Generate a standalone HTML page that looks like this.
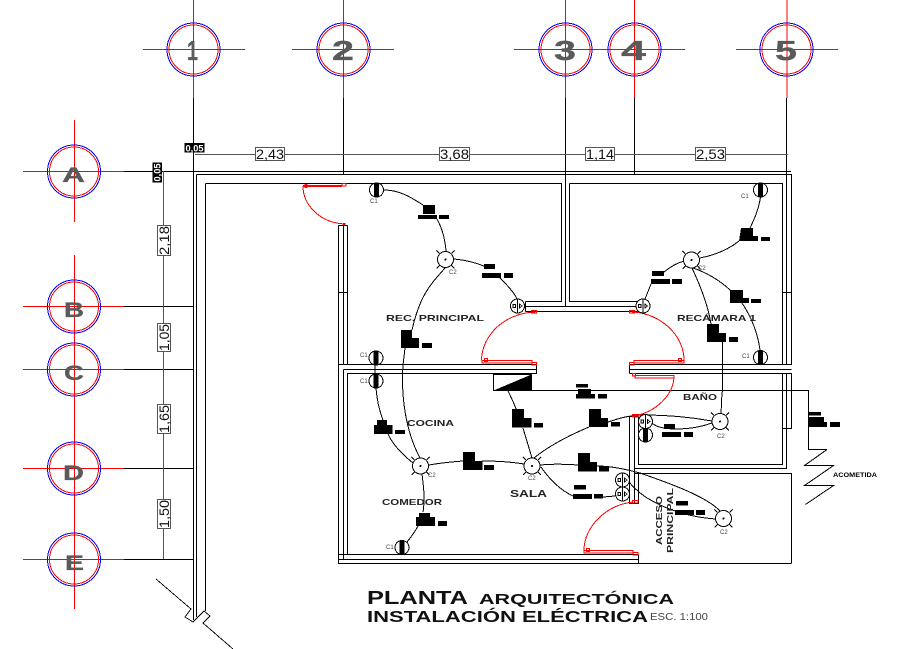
<!DOCTYPE html>
<html><head><meta charset="utf-8"><style>
html,body{margin:0;padding:0;background:#fff;width:905px;height:649px;overflow:hidden}
svg{display:block}
text{font-family:"Liberation Sans",sans-serif}
.l{font-weight:bold;font-size:8.5px;fill:#222}
.g{font-weight:bold;fill:#5a5a5a;stroke:#5a5a5a;stroke-width:.3}
.d{font-size:14px;fill:#111}
.c{font-size:6px;fill:#444}
.z{font-size:9px;fill:#fff;font-weight:bold}
</style></head><body>
<svg width="905" height="649" viewBox="0 0 905 649" xmlns="http://www.w3.org/2000/svg" shape-rendering="crispEdges">
<defs>
<g id="gc"><circle r="26.5" fill="none" stroke="#00f"/><circle r="24.5" fill="none" stroke="#f00"/></g>
<g id="lt"><circle r="8" fill="#fff" stroke="#000"/><circle r="1" fill="#000"/><path d="M-6,-6L-9,-9M6,-6L9,-9M-6,6L-9,9M6,6L9,9" stroke="#000" stroke-width=".8"/></g>
<g id="sw"><circle r="7" fill="#fff" stroke="#000"/><rect x="-2.5" y="-7" width="5" height="14" fill="#000"/></g>
<g id="db"><circle r="7" fill="#fff" stroke="#000"/><path d="M0,-7V7" stroke="#000"/><path d="M-4.5,-1.5L-2,-1.5L-2,1.5L-4.5,1.5ZM4.5,0L2,-2L2,2Z" fill="#fff" stroke="#000" stroke-width=".8"/></g>
</defs>

<!-- black grid extensions -->
<g stroke="#000" fill="none">
<path d="M193.5,98V620M343.5,98V174M565.5,98V306M634.5,98V174M786.5,98V365"/>
<path d="M124,171.5H791M124,306.5H193M124,369.5H193M124,468.5H193M124,559.5H193"/>
</g>
<!-- dimension lines -->
<g stroke="#555" fill="none">
<path d="M195,154.5H788M163.5,171V559"/>
</g>
<!-- red grid -->
<g stroke="#f00" fill="none">
<path d="M193.5,0V98M143,49.5H245M343.5,0V98M292,49.5H394M565.5,0V98M514,49.5H685M634.5,0V98M787,0V98M736,49.5H838"/>
<path d="M74.5,120V222M74.5,255V609M23,171.5H124M23,306.5H124M23,369.5H124M23,468.5H124M23,559.5H124"/>
</g>
<g>
<use href="#gc" x="193.5" y="49.5"/><use href="#gc" x="343.5" y="49.5"/><use href="#gc" x="565.5" y="49.5"/><use href="#gc" x="634.5" y="49.5"/><use href="#gc" x="786.5" y="49.5"/>
<use href="#gc" x="74" y="171.5"/><use href="#gc" x="74" y="306.5"/><use href="#gc" x="74" y="369.5"/><use href="#gc" x="74" y="468.5"/><use href="#gc" x="74" y="559.5"/>
</g>
<g class="g" font-size="28">
<text x="187" y="60" textLength="11" lengthAdjust="spacingAndGlyphs">1</text>
<text x="332" y="60" textLength="22" lengthAdjust="spacingAndGlyphs">2</text>
<text x="554" y="60" textLength="22" lengthAdjust="spacingAndGlyphs">3</text>
<text x="621" y="60" textLength="25" lengthAdjust="spacingAndGlyphs">4</text>
<text x="775" y="60" textLength="22" lengthAdjust="spacingAndGlyphs">5</text>
</g>
<g class="g" font-size="21">
<text x="62" y="182" textLength="23" lengthAdjust="spacingAndGlyphs">A</text>
<text x="64" y="317" textLength="20" lengthAdjust="spacingAndGlyphs">B</text>
<text x="64" y="380" textLength="20" lengthAdjust="spacingAndGlyphs">C</text>
<text x="63" y="480" textLength="21" lengthAdjust="spacingAndGlyphs">D</text>
<text x="65" y="570" textLength="19" lengthAdjust="spacingAndGlyphs">E</text>
</g>

<!-- walls -->
<g stroke="#000" fill="none">
<path d="M196.5,174.5H791.5V365M196.5,174.5V617M205.5,183.5V611M205.5,183.5H561.5V301.5H525.5M569.5,183.5H782.5V365M569.5,183.5V301.5H637.5"/>
<path d="M786.5,174V365M565.5,183V306"/>
<path d="M525.5,301.5V311.5M525.5,306.5H637.5V311M525.5,311.5H637.5"/>
<path d="M338.5,225.5H347.5M338.5,225.5V564M347.5,225.5V365M343.5,225V365M338.5,292.5H347.5M782.5,292.5H791.5"/>
<path d="M338.5,364.5H536.5V373.5H347.5V554.5M343.5,369.5H536.5M343.5,369.5V559"/>
<path d="M629.5,364.5H791.5M629.5,369.5H791.5M629.5,373.5H791.5M629.5,364.5V373.5"/>
<path d="M338.5,554.5H638.5M338.5,559.5H638.5M338.5,563.5H791.5M638.5,554.5V563.5"/>
<path d="M782.5,373V464.5H638.5V416.5M786.5,373V468.5H634.5M791.5,373V428.5H782.5M634.5,473.5H791.5V563.5"/>
<path d="M629.5,416.5V503.5H638.5V473.5M634.5,416.5V503M629.5,416.5H638.5"/>
<!-- acometida -->
<path d="M494,390.5H808.5V449.5H827"/>
<rect x="493.5" y="374.5" width="38" height="16"/>
<path d="M722.5,342V392"/>
</g>
<path d="M827,449.5L804.5,465.5H833.5L804.5,485.5H833.5L805.5,504.5" fill="none" stroke="#000"/>
<path d="M493.5,390.5L531.5,374.5V390.5Z" fill="#000"/>
<!-- break lines -->
<path d="M156,579L191,609L185,617L193,622L204,611L210,616L203,623L233,649" fill="none" stroke="#000" stroke-width=".9"/>

<!-- wires -->
<g fill="none" stroke="#000" stroke-width="1">
<path d="M384,190C400,190 412,198 423,205M437,219C442,228 445,238 446,251"/>
<path d="M454,259C465,260 475,262 486,267M500,278C506,284 514,292 517,299"/>
<path d="M445,268C430,285 420,295 412,330M405,348L403,365C401,395 405,430 420,458"/>
<path d="M375,365V374M376,388C377,400 379,410 383,420M388,434C393,445 403,455 413,463"/>
<path d="M429,465C440,463 450,462 463,461M482,461C500,461 512,462 524,464"/>
<path d="M422,474C424,490 425,500 423,512M418,526C415,532 411,537 407,542"/>
<path d="M508,391C511,397 514,403 516,409M523,428L532,458"/>
<path d="M534,458C550,445 570,435 589,427M608,422C620,418 630,415 645,415C670,415 695,418 712,421"/>
<path d="M652,423C660,431 690,431 712,423M722,392L721,414"/>
<path d="M540,465C550,464 565,464 578,465M597,466C610,466 625,469 640,473C660,480 705,495 720,511"/>
<path d="M541,467C550,480 560,490 573,496M603,497L615,496"/>
<path d="M629,482C640,495 650,500 660,505C680,514 700,518 716,519"/>
<path d="M700,258C715,255 728,250 739,241M750,228C755,218 759,208 760.5,197"/>
<path d="M684,261C677,263 670,267 664,272M651,284C649,289 647,294 645,299"/>
<path d="M693,268C705,272 720,280 731,291M742,303C752,318 758,335 760,350"/>
<path d="M692,268C700,285 708,305 711,324"/>
</g>

<!-- red doors -->
<g fill="none" stroke="#f00" stroke-width="1">
<path d="M303,186C303,205 320,223 345,224"/>
<path d="M481.5,360C482,335 505,313 535,312"/>
<path d="M684,360C684,335 660,313 632,312"/>
<path d="M674,376C674,395 655,413 633,416"/>
<path d="M584,550C584,528 605,505 633,502"/>
<rect x="342" y="183.5" width="4" height="2.5"/>
<rect x="482" y="360.5" width="50" height="2.5"/><rect x="532" y="362.5" width="4.5" height="2.5"/><rect x="484.5" y="358.5" width="3" height="3"/>
<rect x="531.5" y="310.5" width="5" height="2.5"/>
<rect x="634" y="360.5" width="50" height="2.5"/><rect x="629.5" y="362.5" width="4.5" height="2.5"/><rect x="678.5" y="358.5" width="3" height="3"/>
<rect x="629.5" y="310.5" width="5" height="2.5"/>
<rect x="635" y="375.5" width="39" height="2.5"/><rect x="632.5" y="373.5" width="3" height="2.5"/>
<rect x="632.5" y="414.5" width="11" height="2.5"/>
<rect x="584" y="550.5" width="49" height="2.5"/><rect x="633" y="552.5" width="5" height="2.5"/><rect x="586.5" y="548.5" width="3" height="3"/>
<rect x="632.5" y="500.5" width="5.5" height="2.5"/>
</g>
<rect x="303" y="185" width="39" height="2" fill="#f00"/>
<rect x="304.5" y="184" width="3" height="4" fill="#f00"/>
<rect x="343" y="223" width="2.5" height="2" fill="#f00"/>

<!-- devices -->
<use href="#lt" x="445.5" y="259.5"/><use href="#lt" x="691.5" y="260"/><use href="#lt" x="420.5" y="466"/><use href="#lt" x="532" y="466"/><use href="#lt" x="720" y="421.5"/><use href="#lt" x="723.5" y="518.5"/>
<use href="#sw" x="376.5" y="190"/><use href="#sw" x="376" y="358"/><use href="#sw" x="376" y="381"/><use href="#sw" x="402" y="547.5"/><use href="#sw" x="760.5" y="190"/><use href="#sw" x="760.5" y="357.5"/><use href="#sw" x="645.5" y="435"/>
<use href="#db" x="517.5" y="306"/><use href="#db" x="643" y="306"/><use href="#db" x="645.5" y="421.5"/><use href="#db" x="622.5" y="480"/><use href="#db" x="622.5" y="494"/>

<!-- black blocks -->
<path fill="#000" d="
M423,205h12v9h-12zM418,215h19v4h-19zM439,215h10v4h-10z
M484,264h11v5h-11zM482,273h19v5h-19zM504,273h9v5h-9z
M401,330h11v8h7v10h-18zM422,343h10v5h-10z
M741,228h12v8h5v5h-19zM761,237h9v4h-9z
M652,271h12v5h-12zM651,279h19v5h-19zM672,279h10v5h-10z
M730,290h13v8h6v5h-19zM751,299h10v4h-10z
M707,324h12v9h7v9h-19zM729,337h9v5h-9z
M377,420h10v5h5.5v9h-18.500v-9h3zM395,430h10v4h-10z
M463,452h12v9h7.500v9h-19.500zM484,465h10v5h-10z
M512,409h12v9h7.500v9.500h-19.500zM534,423h9v4.500h-9z
M589,409h12v9h7v9h-19zM611,422h9v4.500h-9z
M578,453h12v9h7v9.500h-19zM599,466h10v5.500h-10z
M574,485h12v4.500h-12zM573,494h19v5h-19zM594,494h9v4.500h-9z
M419,513h11v4h5v9h-19v-9h3zM438,521h9v5h-9z
M576,384h12v3.500h-12zM578,389h13v5h4v4.500h-19v-4.500h2zM598,394h9v4.500h-9z
M664,424h11v5h-11zM662,432h19v5h-19zM684,432h9v5h-9z
M676,501h12v4.500h-12zM675,510h19v5h-19zM696,510h9v5h-9z
M809,412h12v3.500h-12zM809,417h15v5h3v5h-18zM830,422h10v5h-10z"/>

<!-- small labels -->
<g class="c">
<text x="370" y="203">C1</text><text x="449" y="274">C2</text>
<text x="360" y="357">C1</text><text x="360" y="383">C1</text>
<text x="386" y="549">C1</text><text x="741" y="198">C1</text><text x="742" y="358">C1</text>
<text x="698" y="270">C2</text><text x="428" y="477">C2</text><text x="528" y="480">C2</text>
<text x="717" y="438">C2</text><text x="720" y="534">C2</text>
</g>

<!-- room labels -->
<g class="l">
<text x="386" y="321" textLength="98" lengthAdjust="spacingAndGlyphs">REC. PRINCIPAL</text>
<text x="677" y="321" textLength="79" lengthAdjust="spacingAndGlyphs">RECÁMARA 1</text>
<text x="407" y="426" textLength="47" lengthAdjust="spacingAndGlyphs">COCINA</text>
<text x="382" y="505" textLength="60" lengthAdjust="spacingAndGlyphs">COMEDOR</text>
<text x="510" y="497" textLength="37" lengthAdjust="spacingAndGlyphs" font-size="10">SALA</text>
<text x="683" y="400" textLength="34" lengthAdjust="spacingAndGlyphs">BAÑO</text>
<text transform="translate(662,545) rotate(-90)" textLength="49" lengthAdjust="spacingAndGlyphs">ACCESO</text>
<text transform="translate(673,553) rotate(-90)" textLength="65" lengthAdjust="spacingAndGlyphs">PRINCIPAL</text>
<text x="833" y="477" textLength="44" lengthAdjust="spacingAndGlyphs" font-size="6.500" fill="#000">ACOMETIDA</text>
</g>

<!-- dimensions -->
<g fill="#fff" stroke="#555">
<rect x="255.500" y="147.500" width="29" height="13"/><rect x="439.500" y="147.500" width="30" height="13"/><rect x="585.500" y="147.500" width="29" height="13"/><rect x="695.500" y="147.500" width="30" height="13"/>
<rect x="157.500" y="225.500" width="13" height="30"/><rect x="157.500" y="323.500" width="13" height="28"/><rect x="157.500" y="404.500" width="13" height="29"/><rect x="157.500" y="499.500" width="13" height="29"/>
</g>
<g class="d">
<text x="256" y="159" textLength="28" lengthAdjust="spacingAndGlyphs">2,43</text>
<text x="440" y="159" textLength="29" lengthAdjust="spacingAndGlyphs">3,68</text>
<text x="586" y="159" textLength="28" lengthAdjust="spacingAndGlyphs">1,14</text>
<text x="696" y="159" textLength="29" lengthAdjust="spacingAndGlyphs">2,53</text>
<text transform="translate(169,255) rotate(-90)" textLength="29" lengthAdjust="spacingAndGlyphs">2,18</text>
<text transform="translate(169,351) rotate(-90)" textLength="27" lengthAdjust="spacingAndGlyphs">1,05</text>
<text transform="translate(169,433) rotate(-90)" textLength="28" lengthAdjust="spacingAndGlyphs">1,65</text>
<text transform="translate(169,528) rotate(-90)" textLength="28" lengthAdjust="spacingAndGlyphs">1,50</text>
</g>
<rect x="184.500" y="143" width="20" height="9.500" fill="#000"/>
<rect x="152.500" y="162.500" width="9.500" height="20" fill="#000"/>
<text class="z" x="185.500" y="151.500" textLength="18" lengthAdjust="spacingAndGlyphs">0,05</text>
<text class="z" transform="translate(160.500,181.500) rotate(-90)" textLength="18" lengthAdjust="spacingAndGlyphs">0,05</text>

<!-- title -->
<g fill="#111" font-weight="bold">
<text x="367" y="604" font-size="18" textLength="101" lengthAdjust="spacingAndGlyphs">PLANTA</text>
<text x="479" y="604" font-size="15" textLength="195" lengthAdjust="spacingAndGlyphs">ARQUITECTÓNICA</text>
<text x="367" y="622" font-size="15.500" textLength="281" lengthAdjust="spacingAndGlyphs">INSTALACIÓN ELÉCTRICA</text>
</g>
<text x="650" y="620" font-size="10" fill="#444" textLength="58" lengthAdjust="spacingAndGlyphs">ESC. 1:100</text>
</svg>
</body></html>
